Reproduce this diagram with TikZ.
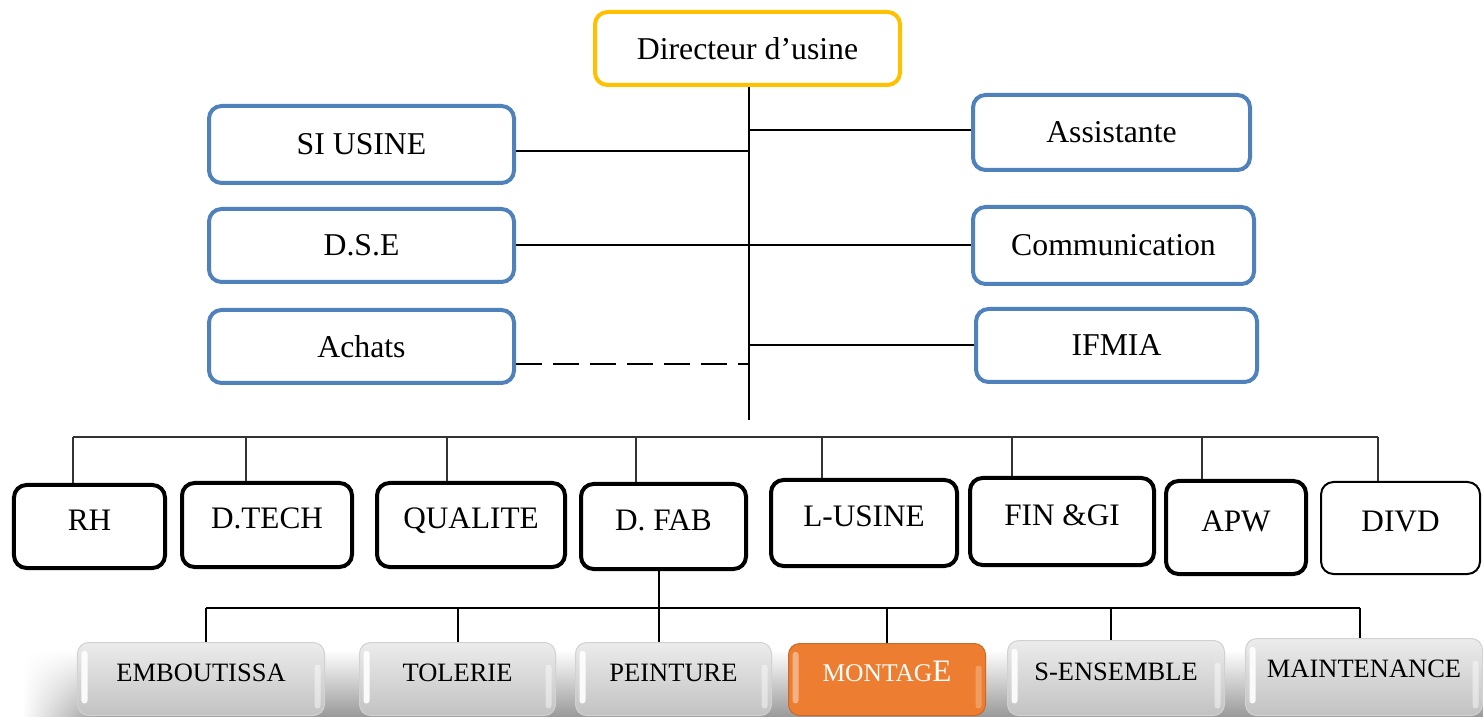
\documentclass[tikz,border=0pt]{standalone}
\usepackage{fontspec}
\setmainfont{Liberation Serif}
\usetikzlibrary{fadings}
\definecolor{frameblue}{HTML}{4F81BD}
\definecolor{framegold}{HTML}{FFC000}
\definecolor{montorange}{HTML}{ED7D31}
\definecolor{shoptop}{HTML}{ECECEC}
\definecolor{shopbot}{HTML}{C2C2C2}
\begin{document}
\begin{tikzpicture}[x=0.4pt,y=-0.4pt,
  topbox/.style={draw=frameblue, line width=1.6pt, rounded corners=5pt, fill=white,
    font=\fontsize{12.7}{15}\selectfont, inner sep=0pt},
  chiefbox/.style={topbox, draw=framegold},
  unitbox/.style={draw=black, line width=1.6pt, rounded corners=5pt, fill=white,
    font=\fontsize{12.5}{15}\selectfont, inner sep=0pt, text height=8.5pt, text depth=5.6pt},
  shopbox/.style={draw=black!18, line width=0.4pt, rounded corners=4.5pt,
    top color=shoptop, bottom color=shopbot,
    font=\fontsize{10.6}{13}\selectfont, inner sep=0pt, text height=7.5pt, text depth=5.6pt},
  link/.style={line width=0.6pt},
  drop/.style={line width=0.45pt, black!80},
  shoplink/.style={line width=0.8pt},
]
\useasboundingbox (0,0) rectangle (1483,717);

% soft haze behind the workshop row
\shade[top color=white, bottom color=black!40] (100,650) rectangle (1483,717);
\shade[top color=white, bottom color=black!40, path fading=west] (22,650) rectangle (100,717);

% management
\node[chiefbox, minimum width=122pt, minimum height=29.2pt] (dir) at (747.5,48.5) {Directeur d’usine};

\node[topbox, minimum width=122pt, minimum height=30.8pt] (si) at (361.5,144.5) {SI USINE};
\node[topbox, minimum width=122pt, minimum height=29.2pt] (dse) at (361.5,245.5) {D.S.E};
\node[topbox, minimum width=122pt, minimum height=29.2pt] (achats) at (361.5,346.5) {Achats};

\node[topbox, minimum width=110.8pt, minimum height=30pt] (assist) at (1111.5,132.5) {Assistante};
\node[topbox, minimum width=112.4pt, minimum height=30.8pt] (comm) at (1113.5,245.5) {Communication};
\node[topbox, minimum width=112.4pt, minimum height=29.2pt] (ifmia) at (1116.5,345.5) {IFMIA};

% departments
\node[unitbox, minimum width=60.4pt, minimum height=33.2pt] (rh) at (89.5,526.5) {RH};
\node[unitbox, minimum width=68pt, minimum height=33.6pt] (dtech) at (267,525) {D.TECH};
\node[unitbox, minimum width=75.2pt, minimum height=33.6pt] (qual) at (471,525) {QUALITE};
\node[unitbox, minimum width=66pt, minimum height=34pt] (dfab) at (663.5,526.5) {D. FAB};
\node[unitbox, minimum width=74.4pt, minimum height=34.4pt] (lusine) at (864,523) {L-USINE};
\node[unitbox, minimum width=73.6pt, minimum height=34.8pt] (fin) at (1062,521.5) {FIN \&GI};
\node[unitbox, minimum width=56pt, minimum height=37.2pt] (apw) at (1236,527.5) {APW};
\node[unitbox, line width=0.8pt, minimum width=63.6pt, minimum height=36.8pt] (divd) at (1400.5,528) {DIVD};

% workshops
\node[shopbox, minimum width=98.8pt, minimum height=29.2pt] (emb) at (201,679) {EMBOUTISSA};
\node[shopbox, minimum width=78.4pt, minimum height=29.2pt] (tol) at (457.5,679) {TOLERIE};
\node[shopbox, minimum width=78.4pt, minimum height=29.2pt] (pein) at (673.5,679) {PEINTURE};
\node[shopbox, draw=montorange!85!black, top color=montorange, bottom color=montorange,
      text=white, minimum width=78.8pt, minimum height=28.8pt] (mont) at (887,679.5)
      {{\fontsize{10.2}{12}\selectfont MONTAG}{\fontsize{12.5}{14}\selectfont E}};
\node[shopbox, minimum width=86.8pt, minimum height=30pt] (sens) at (1116,678) {S-ENSEMBLE};
\node[shopbox, minimum width=94.8pt, minimum height=30.8pt, text depth=7pt] (maint) at (1364,677) {MAINTENANCE};

% glossy edges of the workshop buttons
\foreach \n in {emb,tol,pein,sens,maint}{
  \fill[white, opacity=0.9, rounded corners=1.2pt]
    ([xshift=1.8pt,yshift=-3.5pt]\n.north west) rectangle ([xshift=4.2pt,yshift=5pt]\n.south west);
  \fill[white, opacity=0.45, rounded corners=1.2pt]
    ([xshift=-4.2pt,yshift=-9pt]\n.north east) rectangle ([xshift=-1.8pt,yshift=3pt]\n.south east);
}
\fill[montorange!55!white, opacity=0.9, rounded corners=1.2pt]
  ([xshift=1.8pt,yshift=-3.5pt]mont.north west) rectangle ([xshift=4.2pt,yshift=5pt]mont.south west);
\fill[montorange!60!white, opacity=0.6, rounded corners=1.2pt]
  ([xshift=-4.2pt,yshift=-9pt]mont.north east) rectangle ([xshift=-1.8pt,yshift=3pt]mont.south east);

% main trunk and staff links
\coordinate (tend) at (749,420);
\draw[link] (dir.south -| tend) -- (tend);
\draw[link] (si.east |- 0,151) -- (tend |- 0,151);
\draw[link] (assist.west |- 0,130) -- (tend |- 0,130);
\draw[link] (dse.east |- 0,245) -- (comm.west |- 0,245);
\draw[link, dash pattern=on 10.4pt off 4.4pt] (achats.east |- 0,364) -- (tend |- 0,364);
\draw[link] (ifmia.west |- 0,345) -- (tend |- 0,345);

% department bus
\coordinate (busL) at (73,437);
\coordinate (busR) at (1378,437);
\draw[drop] (busL) -- (busR);
\foreach \n/\x in {rh/73, dtech/246, qual/447, dfab/636, lusine/822, fin/1012, apw/1202, divd/1378}
  \draw[drop] (\n.north -| \x,0) -- (busL -| \x,0);

% workshop bus
\coordinate (shopL) at (206,608);
\coordinate (shopR) at (1360,608);
\draw[shoplink] (dfab.south -| 659,0) -- (shopL -| 659,0);
\draw[shoplink] (shopL) -- (shopR);
\foreach \n/\x in {emb/206, tol/458, pein/659, mont/887, sens/1111, maint/1360}
  \draw[shoplink] (\n.north -| \x,0) -- (shopL -| \x,0);
\end{tikzpicture}
\end{document}
